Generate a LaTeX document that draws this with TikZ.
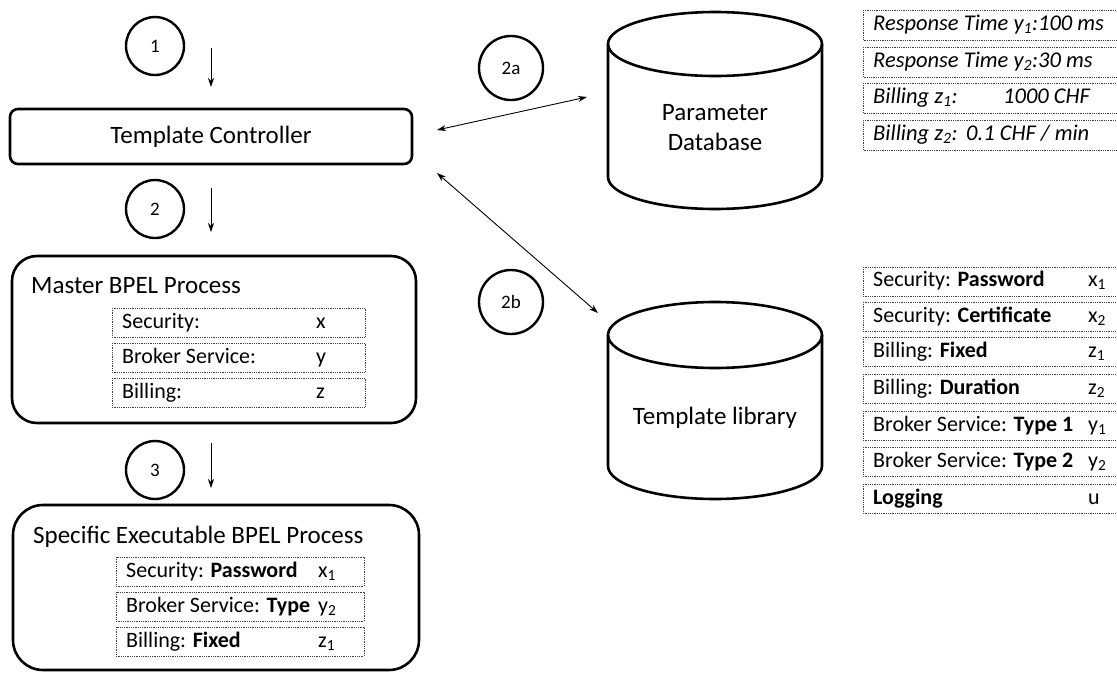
\documentclass[tikz,border=0pt]{standalone}
\usepackage{fontspec}
\setmainfont{Carlito}
\usetikzlibrary{arrows.meta}
\tikzset{
  frame/.style={draw, line width=2.6pt},
  stepcircle/.style={draw, circle, line width=2.4pt, inner sep=0pt, font=\fontsize{19}{21}\selectfont},
  flow/.style={-{Stealth[length=9pt,width=6pt]}, line width=0.9pt},
  twoway/.style={{Stealth[length=9pt,width=6pt]}-{Stealth[length=9pt,width=6pt]}, line width=0.9pt},
  cell/.style={draw=black!75, densely dotted, line width=0.8pt},
  title/.style={font=\fontsize{25}{30}\selectfont, inner sep=0pt},
  entry/.style={font=\fontsize{22}{26}\selectfont, inner sep=0pt, anchor=west,
    text height=15pt, text depth=5pt},
  param/.style={entry, font=\fontsize{22.5}{27}\selectfont\itshape},
}
\begin{document}
\begin{tikzpicture}[x=1pt,y=-1pt]
\useasboundingbox (0,0) rectangle (1117,673);
\clip (0,0) rectangle (1117,673);

% step markers
\node[stepcircle, minimum size=58pt] (s1) at (155,46) {1};
\node[stepcircle, minimum size=58pt] (s2) at (155,209) {2};
\node[stepcircle, minimum size=58pt] (s3) at (155,470) {3};
\node[stepcircle, minimum size=64pt] (s2a) at (511,68) {2a};
\node[stepcircle, minimum size=64pt] (s2b) at (511,302) {2b};

% template controller
\draw[frame, rounded corners=8pt] (10,109) rectangle (412,164);
\node[title] (tc) at (211,137) {Template Controller};

% master BPEL process
\draw[frame, rounded corners=25pt] (12,256) rectangle (416,423);
\node[title, anchor=west] (mbp) at (31,286) {Master BPEL Process};
\draw[cell] (112,308) rectangle (365,337);
\draw[cell] (112,343) rectangle (365,372);
\draw[cell] (112,378) rectangle (365,407);
\node[entry] (m1) at (122,323) {Security:};
\node[entry] (m1v) at (316,323) {x};
\node[entry] (m2) at (122,358) {Broker Service:};
\node[entry] (m2v) at (316,358) {y};
\node[entry] (m3) at (122,393) {Billing:};
\node[entry] (m3v) at (316,393) {z};

% specific executable BPEL process
\draw[frame, rounded corners=30pt] (13,505) rectangle (419,670);
\node[title, anchor=west] (sbp) at (33,537) {Specific Executable BPEL Process};
\draw[cell] (116,557) rectangle (364,586);
\draw[cell] (116,592) rectangle (364,621);
\draw[cell] (116,627) rectangle (364,656);
\node[entry] (e1) at (126,572) {Security: \textbf{Password}};
\node[entry] (e1v) at (318,572) {x\textsubscript{1}};
\node[entry] (e2) at (126,607) {Broker Service: \textbf{Type}};
\node[entry] (e2v) at (318,607) {y\textsubscript{2}};
\node[entry] (e3) at (126,642) {Billing: \textbf{Fixed}};
\node[entry] (e3v) at (318,642) {z\textsubscript{1}};

% parameter database cylinder
\draw[frame] (715,44) ellipse [x radius=107pt, y radius=32pt];
\draw[frame] (608,44) -- (608,177) arc[start angle=180, end angle=360, x radius=107pt, y radius=32pt] -- (822,44);
\node[title, align=center] (pdb) at (715,128) {Parameter\\Database};

% template library cylinder
\draw[frame] (715,335) ellipse [x radius=107pt, y radius=33pt];
\draw[frame] (608,335) -- (608,466) arc[start angle=180, end angle=360, x radius=107pt, y radius=33pt] -- (822,335);
\node[title] (tlib) at (715,418) {Template library};

% parameter values
\foreach \t in {10,47,83,120} \draw[cell] (863,\t) rectangle (1125,\t+30);
\node[param] (p1) at (873,25) {Response Time y\textsubscript{1}:100 ms};
\node[param] (p2) at (873,62) {Response Time y\textsubscript{2}:30 ms};
\node[param] (p3) at (873,98) {Billing z\textsubscript{1}:};
\node[param] (p3v) at (1003,98) {1000 CHF};
\node[param] (p4) at (873,135) {Billing z\textsubscript{2}:};
\node[param] (p4v) at (966,135) {0.1 CHF / min};

% template library entries
\foreach \t in {267,302,337,374,411,447,484} \draw[cell] (863,\t) rectangle (1125,\t+29);
\node[entry] (l1) at (873,281) {Security: \textbf{Password}};
\node[entry] (l1v) at (1088,281) {x\textsubscript{1}};
\node[entry] (l2) at (873,317) {Security: \textbf{Certificate}};
\node[entry] (l2v) at (1088,317) {x\textsubscript{2}};
\node[entry] (l3) at (873,352) {Billing: \textbf{Fixed}};
\node[entry] (l3v) at (1088,352) {z\textsubscript{1}};
\node[entry] (l4) at (873,389) {Billing: \textbf{Duration}};
\node[entry] (l4v) at (1088,389) {z\textsubscript{2}};
\node[entry] (l5) at (873,426) {Broker Service: \textbf{Type 1}};
\node[entry] (l5v) at (1088,426) {y\textsubscript{1}};
\node[entry] (l6) at (873,462) {Broker Service: \textbf{Type 2}};
\node[entry] (l6v) at (1088,462) {y\textsubscript{2}};
\node[entry] (l7) at (873,499) {\textbf{Logging}};
\node[entry] (l7v) at (1088,499) {u};

% connector end points
\coordinate (f1a) at (211,48);  \coordinate (f1b) at (211,87);
\coordinate (f2a) at (211,188); \coordinate (f2b) at (211,232);
\coordinate (f3a) at (211,443); \coordinate (f3b) at (211,488);
\coordinate (qa) at (437,130);  \coordinate (qb) at (587,97);
\coordinate (ta) at (437,173);  \coordinate (tb) at (598,313);

\draw[flow] (f1a) -- (f1b);
\draw[flow] (f2a) -- (f2b);
\draw[flow] (f3a) -- (f3b);
\draw[twoway] (qa) -- (qb);
\draw[twoway] (ta) -- (tb);
\end{tikzpicture}
\end{document}
